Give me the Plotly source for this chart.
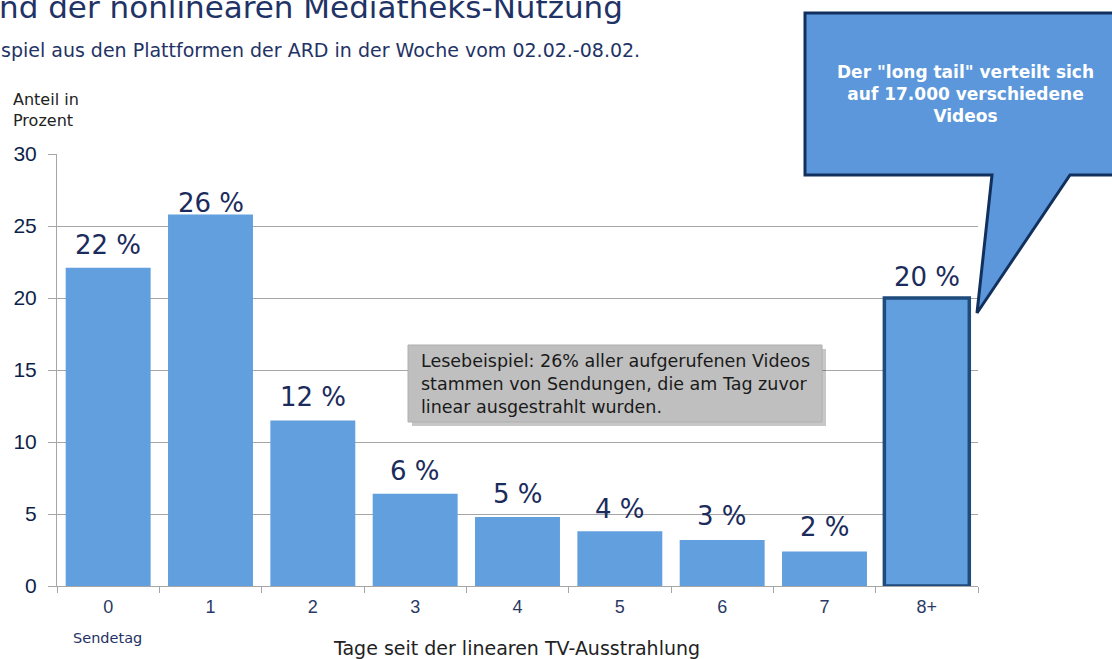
import plotly.graph_objects as go

categories = ["0", "1", "2", "3", "4", "5", "6", "7", "8+"]
values = [22.1, 25.8, 11.5, 6.4, 4.8, 3.8, 3.2, 2.4, 20.0]
labels = ["22 %", "26 %", "12 %", "6 %", "5 %", "4 %", "3 %", "2 %", "20 %"]
y_ticks = [0, 5, 10, 15, 20, 25, 30]

title_text = "nd der nonlinearen Mediatheks-Nutzung"
subtitle_text = "spiel aus den Plattformen der ARD in der Woche vom 02.02.-08.02."
y_title = "Anteil in<br>Prozent"
x_title = "Tage seit der linearen TV-Ausstrahlung"
first_cat_note = "Sendetag"
callout_text = "Der \"long tail\" verteilt sich<br>auf 17.000 verschiedene<br>Videos"
reading_text = "Lesebeispiel: 26% aller aufgerufenen Videos<br>stammen von Sendungen, die am Tag zuvor<br>linear ausgestrahlt wurden."

W, H = 1112, 659
L, R, T, B = 57, 134, 154, 73
PW, PH = W - L - R, H - T - B


def px(x):
    return (x - L) / PW


def py(y):
    return 1 - (y - T) / PH


BAR = "#629FDE"
NAVY = "#1B2C5C"
GRID = "#A6A6A6"
# vertical offset (px) of each value label above its bar
label_shift = [23, 11, 23, 23, 23, 22, 24, 24, 21]

fig = go.Figure()
fig.add_trace(go.Bar(
    x=categories, y=values,
    marker=dict(color=BAR,
                line=dict(color=[BAR] * 8 + ["#1F4B7C"], width=[0] * 8 + [3.5])),
    hoverinfo="skip",
))

fig.update_layout(
    width=W, height=H,
    margin=dict(l=L, r=R, t=T, b=B),
    paper_bgcolor="white", plot_bgcolor="white",
    bargap=0.17, showlegend=False,
    font=dict(family="DejaVu Sans"),
)
fig.update_xaxes(
    type="category", tickson="boundaries", ticks="outside", ticklen=6,
    tickcolor=GRID, showline=True, linecolor=GRID, linewidth=1,
    showgrid=False, ticklabelstandoff=4,
    tickfont=dict(family="Liberation Sans", size=18, color="#2A3A66"),
)
fig.update_yaxes(
    range=[0, 30], tickvals=y_ticks, ticks="outside", ticklen=8,
    tickcolor=GRID, showline=True, linecolor=GRID, linewidth=1,
    showgrid=True, gridcolor=GRID, gridwidth=1, zeroline=False,
    ticklabelstandoff=7,
    tickfont=dict(family="Liberation Sans", size=21, color="#0F1F4B"),
)

for c, v, t, s in zip(categories, values, labels, label_shift):
    fig.add_annotation(x=c, y=v, text=t, showarrow=False, xanchor="center",
                       yanchor="middle", yshift=s,
                       font=dict(family="DejaVu Sans", size=26, color=NAVY))

# callout shape
pts = [(805, 13), (1125, 13), (1125, 175), (1070, 175), (977, 313), (992, 175), (805, 175)]
path = "M " + " L ".join(f"{px(a):.5f},{py(b):.5f}" for a, b in pts) + " Z"
fig.add_shape(type="path", xref="paper", yref="paper", path=path,
              fillcolor="#5B97DA", line=dict(color="#12305E", width=3))

# reading example box with shadow
fig.add_shape(type="rect", xref="paper", yref="paper",
              x0=px(412), x1=px(826), y0=py(426), y1=py(349),
              fillcolor="rgba(0,0,0,0.22)", line=dict(width=0))
fig.add_shape(type="rect", xref="paper", yref="paper",
              x0=px(408), x1=px(822), y0=py(422), y1=py(345),
              fillcolor="#BFBFBF", line=dict(color="#AFAFAF", width=1))

ann = [
    dict(text=title_text, x=px(-3), y=py(-13), xanchor="left", yanchor="top",
         font=dict(family="DejaVu Sans", size=31, color="#1F3366")),
    dict(text=subtitle_text, x=px(-1), y=py(50), xanchor="left", yanchor="middle",
         font=dict(family="DejaVu Sans", size=19, color="#1F3366")),
    dict(text=y_title, x=px(11), y=py(110), xanchor="left", yanchor="middle", align="left",
         font=dict(family="DejaVu Sans", size=16, color="#222222")),
    dict(text=first_cat_note, x=px(107), y=py(638), xanchor="center", yanchor="middle",
         font=dict(family="DejaVu Sans", size=14.5, color="#1F3366")),
    dict(text=x_title, x=px(516), y=py(648), xanchor="center", yanchor="middle",
         font=dict(family="DejaVu Sans", size=19, color="#222222")),
    dict(text=callout_text, x=px(965), y=py(94), xanchor="center", yanchor="middle",
         font=dict(family="DejaVu Sans", size=17, color="white", weight="bold")),
    dict(text=reading_text, x=px(419), y=py(384), xanchor="left", yanchor="middle", align="left",
         font=dict(family="DejaVu Sans", size=17.5, color="#1A1A1A")),
]
for a in ann:
    a.update(xref="paper", yref="paper", showarrow=False)
    fig.add_annotation(**a)

fig.write_html("out.html", config={"displayModeBar": False},
               post_script="document.body.style.margin='0';document.body.style.overflow='hidden';")
